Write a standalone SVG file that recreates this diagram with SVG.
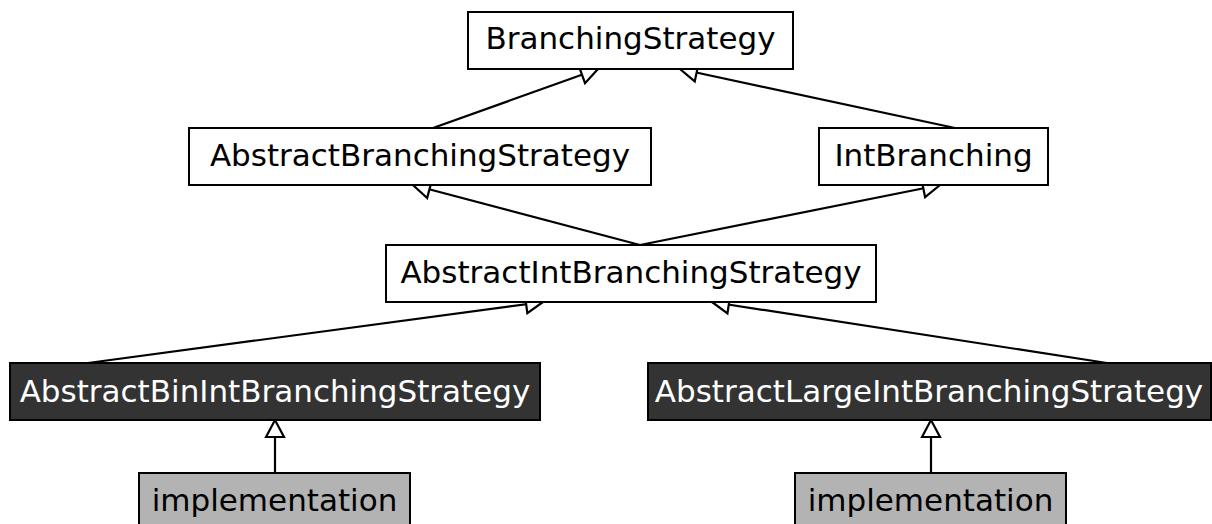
<svg xmlns="http://www.w3.org/2000/svg" width="1212" height="524" viewBox="0 0 1212 524">
<style>
  .box { fill: #ffffff; stroke: #000000; stroke-width: 2; }
  .dark { fill: #333333; stroke: #000000; stroke-width: 2; }
  .impl { fill: #b3b3b3; stroke: #000000; stroke-width: 2; }
  .lbl { font-family: "DejaVu Sans", sans-serif; font-size: 31px; text-anchor: middle; fill: #000000; }
  .lbl-w { font-family: "DejaVu Sans", sans-serif; font-size: 31px; text-anchor: middle; fill: #ffffff; }
  .edge { stroke: #000000; stroke-width: 2.2; fill: none; marker-end: url(#tri); }
</style>
<defs>
  <marker id="tri" viewBox="0 0 22 22" refX="19" refY="11" markerWidth="22" markerHeight="22" markerUnits="userSpaceOnUse" orient="auto">
    <path d="M2,2 L19,11 L2,20 Z" fill="#ffffff" stroke="#000000" stroke-width="2.2"/>
  </marker>
</defs>
<rect width="1212" height="524" fill="#ffffff"/>
<g id="connectors">
  <line class="edge" x1="433" y1="128" x2="598" y2="69"/>
  <line class="edge" x1="955" y1="128" x2="680" y2="69"/>
  <line class="edge" x1="640" y1="245" x2="413" y2="185"/>
  <line class="edge" x1="640" y1="245" x2="940" y2="185"/>
  <line class="edge" x1="88" y1="363" x2="543" y2="302"/>
  <line class="edge" x1="1107" y1="363" x2="712" y2="302"/>
  <line class="edge" x1="275" y1="473" x2="275" y2="420"/>
  <line class="edge" x1="931" y1="473" x2="931" y2="420"/>
</g>
<g id="BranchingStrategy">
  <rect class="box" x="468" y="12" width="325" height="57"/>
  <text class="lbl" x="630.5" y="49">BranchingStrategy</text>
</g>
<g id="AbstractBranchingStrategy">
  <rect class="box" x="189" y="128" width="462" height="57"/>
  <text class="lbl" x="420" y="166">AbstractBranchingStrategy</text>
</g>
<g id="IntBranching">
  <rect class="box" x="819" y="128" width="229" height="57"/>
  <text class="lbl" x="933.5" y="166">IntBranching</text>
</g>
<g id="AbstractIntBranchingStrategy">
  <rect class="box" x="386" y="245" width="490" height="57"/>
  <text class="lbl" x="631" y="283">AbstractIntBranchingStrategy</text>
</g>
<g id="AbstractBinIntBranchingStrategy">
  <rect class="dark" x="10" y="363" width="530" height="57"/>
  <text class="lbl-w" x="275" y="402">AbstractBinIntBranchingStrategy</text>
</g>
<g id="AbstractLargeIntBranchingStrategy">
  <rect class="dark" x="648" y="363" width="563" height="57"/>
  <text class="lbl-w" x="929" y="402">AbstractLargeIntBranchingStrategy</text>
</g>
<g id="implementation1">
  <rect class="impl" x="139" y="473" width="271" height="57"/>
  <text class="lbl" x="274.5" y="511">implementation</text>
</g>
<g id="implementation2">
  <rect class="impl" x="795" y="473" width="271" height="57"/>
  <text class="lbl" x="930.5" y="511">implementation</text>
</g>
</svg>
